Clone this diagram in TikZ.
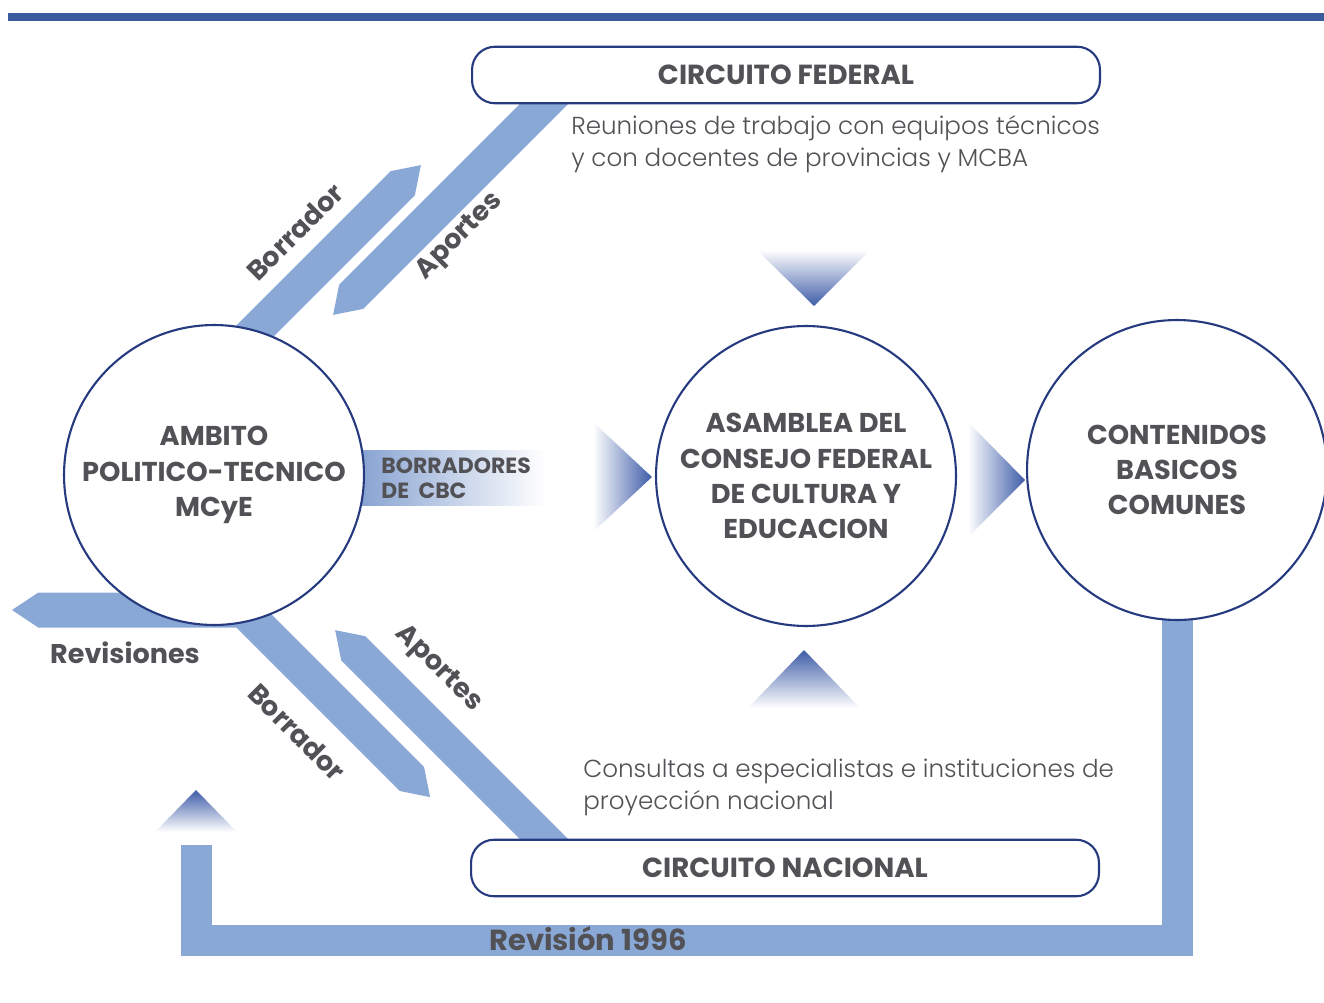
\documentclass[tikz,border=0pt]{standalone}
\usepackage{fontspec}
\setmainfont{Poppins}
\newfontfamily\lightfont{Poppins Light}
\usetikzlibrary{positioning}
\definecolor{bandblue}{RGB}{138,168,214}
\definecolor{tipblue}{RGB}{62,92,168}
\definecolor{ringblue}{RGB}{38,58,128}
\definecolor{labelgray}{RGB}{82,82,86}
\definecolor{topbar}{RGB}{58,92,158}

% band with a pointed end: start, angle, length, half width
\newcommand{\signalband}[4]{%
  \begin{scope}[shift={#1},rotate=#2]
    \fill[bandblue] (0,-#4) -- (#3-1.5*#4,-#4) -- (#3,0) -- (#3-1.5*#4,#4) -- (0,#4) -- cycle;
  \end{scope}}

\begin{document}
\begin{tikzpicture}[
  x = 0.02cm,
  y = -0.02cm,
  ring/.style = {
    draw = ringblue,
    circle,
    line width = 1.2pt,
    fill = white,
    minimum size = 6cm,
    inner sep = 0pt,
    align = center,
    text = labelgray,
    font = \bfseries\fontsize{15.5}{20}\selectfont,
  },
  circuit/.style = {
    draw = ringblue,
    line width = 1.2pt,
    rounded corners = 13pt,
    fill = white,
    minimum width = 12.56cm,
    minimum height = 1.13cm,
    text = labelgray,
    font = \bfseries\fontsize{15.7}{18}\selectfont,
  },
  note/.style = {
    align = left,
    inner sep = 0pt,
    text = labelgray,
    font = \lightfont\fontsize{14}{18}\selectfont,
  },
  tag/.style = {
    inner sep = 0pt,
    text = labelgray,
    font = \bfseries\fontsize{15.4}{17}\selectfont,
  },
]

  \useasboundingbox (0,0) rectangle (1324,1003);
  \fill[topbar] (8,13) rectangle (1324,21);

  \coordinate (bor1s) at (230,356);
  \coordinate (apo1s) at (565,83);
  \coordinate (bor2s) at (230,597);
  \coordinate (apo2s) at (560,855);
  \coordinate (revs) at (250,610);
  \coordinate (revup) at (196,845);
  \coordinate (revend) at (1177,470);

  \signalband{(bor1s)}{45}{270}{17}
  \signalband{(apo1s)}{225}{328}{17}
  \signalband{(revs)}{180}{238}{17.5}
  \signalband{(bor2s)}{-45}{283}{17}
  \signalband{(apo2s)}{135}{318}{17}
  \draw[bandblue,line width=0.62cm] (revup) -- (196,940) -| (revend);

  \shade[left color=bandblue!80!tipblue,right color=white] (340,450) rectangle (545,505);

  \shade[left color=white,right color=tipblue] (593,422) -- (652,477) -- (593,532) -- cycle;
  \shade[left color=white,right color=tipblue] (968,422) -- (1025,480) -- (968,537) -- cycle;
  \shade[top color=white,bottom color=tipblue] (757,250) -- (870,250) -- (814,306) -- cycle;
  \shade[top color=tipblue,bottom color=white] (804,650) -- (860,708) -- (748,708) -- cycle;
  \shade[top color=tipblue,bottom color=white] (196,790) -- (237,832) -- (155,832) -- cycle;

  \node[ring] (ambito) at (214,475) {AMBITO\\POLITICO-TECNICO\\MCyE};
  \node[ring] (asamblea) at (806,476) {ASAMBLEA DEL\\CONSEJO FEDERAL\\DE CULTURA Y\\EDUCACION};
  \node[ring] (cbc) at (1177,470) {CONTENIDOS\\BASICOS\\COMUNES};

  \node[circuit] (federal) at (786,75) {CIRCUITO FEDERAL};
  \node[circuit] (nacional) at (785,868) {CIRCUITO NACIONAL};

  \node[note,below right=0.22cm and 2cm of federal.south west] (reuniones)
    {Reuniones de trabajo con equipos técnicos\\y con docentes de provincias y MCBA};
  \node[note,above right=0.45cm and 2.26cm of nacional.north west] (consultas)
    {Consultas a especialistas e instituciones de\\proyección nacional};

  \node[tag,align=left,anchor=west,font=\bfseries\fontsize{12.5}{14}\selectfont] (borcbc) at (381,478) {BORRADORES\\DE\ \ CBC};
  \node[tag] (revisiones) at (125,653) {Revisiones};
  \node[tag,font=\bfseries\fontsize{16.5}{18}\selectfont] (revision96) at (588,939) {Revisión 1996};
  \node[tag,rotate=45] (borlab1) at (295,232) {Borrador};
  \node[tag,rotate=45] (apolab1) at (460,237) {Aportes};
  \node[tag,rotate=-45] (borlab2) at (297,732) {Borrador};
  \node[tag,rotate=-45] (apolab2) at (438,669) {Aportes};
\end{tikzpicture}
\end{document}
